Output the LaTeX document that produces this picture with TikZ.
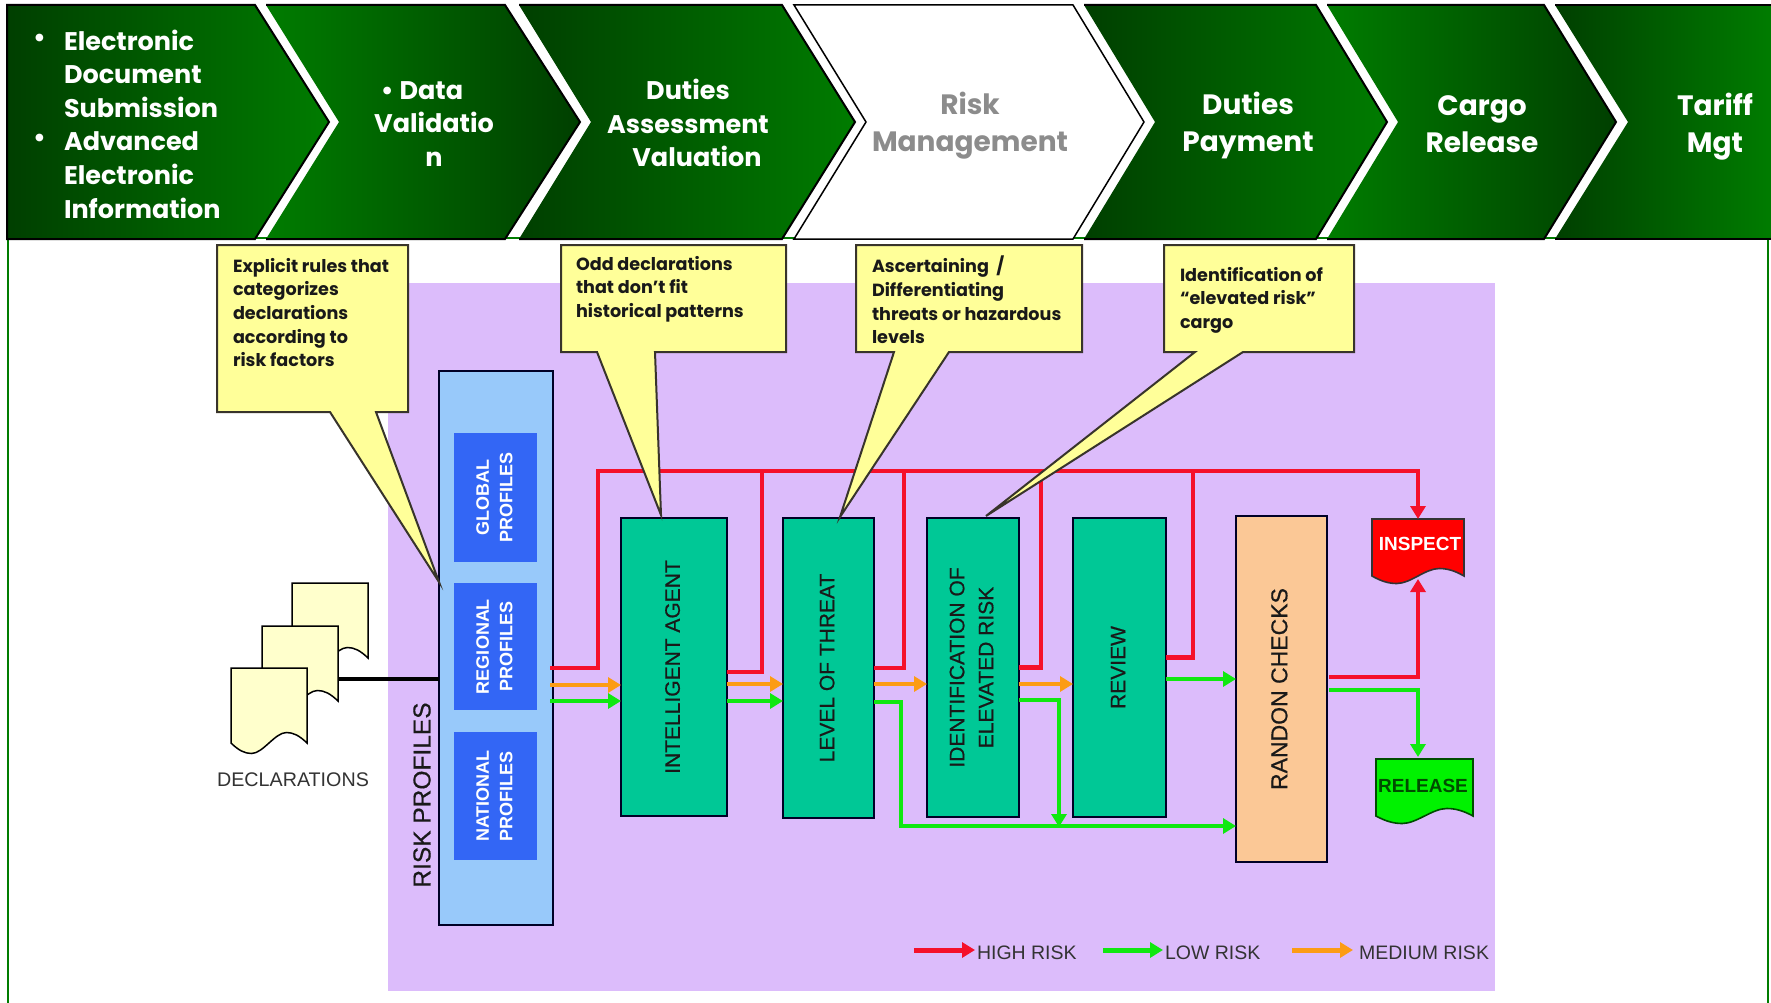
\documentclass[tikz,border=0pt]{standalone}
\usepackage{fontspec}
\setmainfont{Liberation Sans}
\newfontfamily\gothic{Poppins}
\newfontfamily\heavy{Liberation Sans}[FakeBold=0.5]
\usetikzlibrary{arrows.meta,calc}
\definecolor{cdark}{HTML}{003F00}
\definecolor{cgreen}{HTML}{007C00}
\definecolor{cpanel}{HTML}{DCBCFB}
\definecolor{cprof}{HTML}{98C9FA}
\definecolor{cblue}{HTML}{3366F5}
\definecolor{cteal}{HTML}{00C896}
\definecolor{cpeach}{HTML}{FBC896}
\definecolor{cyel}{HTML}{FFFF99}
\definecolor{cdoc}{HTML}{FFFFCC}
\definecolor{cred}{HTML}{F5102A}
\definecolor{clow}{HTML}{10E810}
\definecolor{cmed}{HTML}{FC9C14}
\newcommand{\fs}[2]{\fontsize{#1}{#2}\selectfont}
\newcommand{\vtxt}[1]{\rotatebox{90}{\begin{tabular}{@{}c@{}}#1\end{tabular}}}
\newcommand{\docpath}[5]{% L R top bottom amp
 (#1,#3) -- (#2,#3) -- (#2,#4)
 .. controls ({#2-0.1*(#2-#1)},{#4-#5*0.7}) and ({#2-0.18*(#2-#1)},{#4-#5}) .. ({#2-0.27*(#2-#1)},{#4-#5})
 .. controls ({#2-0.42*(#2-#1)},{#4-#5}) and ({#1+0.42*(#2-#1)},{#4+#5}) .. ({#1+0.27*(#2-#1)},{#4+#5})
 .. controls ({#1+0.18*(#2-#1)},{#4+#5}) and ({#1+0.1*(#2-#1)},{#4+#5*0.7}) .. (#1,#4) -- cycle}
\tikzset{
 every node/.style={inner sep=0pt,outer sep=0pt},
 hdr/.style={text=white,align=center,font=\gothic\bfseries\fs{25.5}{33.6}},
 hdrbig/.style={text=white,align=center,font=\gothic\bfseries\fs{28}{37}},
 box/.style={draw=black!85!blue,line width=1.2pt,align=center,text=black!90},
 stepnode/.style={box,fill=cteal,font=\heavy\fs{21}{29}},
 inner/.style={fill=cblue,text=white,font=\bfseries\fs{18}{23.5}},
 callout/.style={fill=cyel,draw=black!80!olive,line width=2pt,line join=miter},
 calltxt/.style={anchor=west,align=left,font=\gothic\bfseries\fs{17.6}{23.6},text=black!90},
 doc/.style={fill=cdoc,draw=black,line width=1.5pt},
 hi/.style={draw=cred,line width=4.5pt,line join=miter},
 lo/.style={draw=clow,line width=4.5pt,line join=miter},
 me/.style={draw=cmed,line width=4.5pt,line join=miter},
 tip/.style={-{Triangle[length=13pt,width=15pt]}},
 lab/.style={font=\fs{19.5}{22},text=black!80,anchor=west},
}
\begin{document}
\begin{tikzpicture}[x=1pt,y=-1pt]
\useasboundingbox (0,0) rectangle (1771,1003);
\fill[white] (0,0) rectangle (1771,1003);
% frame
\coordinate (fl1) at (8,238); \coordinate (fl2) at (8,1003);
\coordinate (fr1) at (1767.5,238); \coordinate (fr2) at (1767.5,1003);
\draw[cgreen,line width=2pt] (fl1) -- (fl2) (fr1) -- (fr2) (fl1) -- (fr1);
% chevrons
\shade[left color=cdark,right color=cgreen] (7,5) -- (255,5) -- (329,122) -- (255,239) -- (7,239) -- cycle;
\draw[black,line width=2pt] (7,239) -- (7,5) -- (255,5) -- (329,122) -- (255,239) -- cycle;
\shade[left color=cgreen,right color=cdark] (266,5) -- (505,5) -- (580,122) -- (505,239) -- (266,239) -- (339,122) -- cycle;
\draw[black,line width=2pt] (266,5) -- (505,5) -- (580,122) -- (505,239) -- (266,239);
\shade[left color=cdark,right color=cgreen] (519,5) -- (782,5) -- (855,122) -- (782,239) -- (519,239) -- (591,122) -- cycle;
\draw[black,line width=2pt] (519,5) -- (782,5) -- (855,122) -- (782,239) -- (519,239);
\draw[black,line width=1.5pt,fill=white] (794,5) -- (1073,5) -- (1144,122) -- (1073,239) -- (794,239) -- (866,122) -- cycle;
\shade[left color=cdark,right color=cgreen] (1084,5) -- (1316,5) -- (1387,122) -- (1316,239) -- (1084,239) -- (1155,122) -- cycle;
\draw[black,line width=2pt] (1084,5) -- (1316,5) -- (1387,122) -- (1316,239) -- (1084,239);
\shade[left color=cgreen,right color=cdark] (1327,5) -- (1544,5) -- (1616,122) -- (1544,239) -- (1327,239) -- (1398,122) -- cycle;
\draw[black,line width=2pt] (1327,5) -- (1544,5) -- (1616,122) -- (1544,239) -- (1327,239);
\shade[left color=cdark,right color=cgreen] (1555,5) -- (1771,5) -- (1771,239) -- (1555,239) -- (1628,122) -- cycle;
\draw[black,line width=2pt] (1555,5) -- (1771,5) (1771,239) -- (1555,239);
% header text
\node[hdr,anchor=west,align=left] (h1a) at (33,124) {•\\\mbox{}\\\mbox{}\\•\\\mbox{}\\\mbox{}};
\node[hdr,anchor=west,align=left] (h1) at (64,124) {Electronic\\Document\\Submission\\Advanced\\Electronic\\Information};
\node[hdr] (h2) at (434,124) {•\hspace{6pt}Data\hspace*{24pt}\\Validatio\\n};
\node[hdr] (h3) at (688,123) {Duties\\Assessment\\\hspace*{18pt}Valuation};
\node[hdrbig,text=black!45] (h4) at (970,126) {Risk\\Management};
\node[hdrbig] (h5) at (1248,125.5) {Duties\\Payment};
\node[hdrbig] (h6) at (1482,124) {Cargo\\Release};
\node[hdrbig] (h7) at (1715,127) {Tariff\\Mgt};
% panel
\node[fill=cpanel,minimum width=1107pt,minimum height=708pt] (panel) at (941.5,637) {};
% profiles
\node[box,fill=cprof,minimum width=114pt,minimum height=554pt] (rp) at (496,648) {};
\node[inner,minimum width=83pt,minimum height=129pt] (gp) at (495.5,497.5) {\hspace*{1pt}\vtxt{GLOBAL\\PROFILES}};
\node[inner,minimum width=83pt,minimum height=127pt] (rg) at (495.5,646.5) {\hspace*{1pt}\vtxt{REGIONAL\\PROFILES}};
\node[inner,minimum width=83pt,minimum height=128pt] (np) at (495.5,796) {\hspace*{1pt}\vtxt{NATIONAL\\PROFILES}};
\node[rotate=90,font=\heavy\fs{24.5}{28},text=black!90] (rpt) at (422,795) {RISK PROFILES};
% steps
\node[stepnode,minimum width=106pt,minimum height=298pt] (ia) at (674,667) {\vtxt{INTELLIGENT AGENT}};
\node[stepnode,minimum width=91pt,minimum height=300pt] (lt) at (828.5,668) {\vtxt{LEVEL OF THREAT}};
\node[stepnode,minimum width=92pt,minimum height=299pt] (ie) at (973,667.5) {\vtxt{IDENTIFICATION OF\\ELEVATED RISK}};
\node[stepnode,minimum width=93pt,minimum height=299pt] (rv) at (1119.5,667.5) {\vtxt{REVIEW}};
\node[box,fill=cpeach,font=\heavy\fs{23}{29},minimum width=91pt,minimum height=346pt] (rc) at (1281.5,689) {\vtxt{RANDON CHECKS}};
% docs
\draw[doc] \docpath{292}{368}{583}{658}{10.5};
\draw[doc] \docpath{262}{338}{626}{701}{10.5};
\draw[doc] \docpath{231}{307}{668}{743}{10.5};
\node[font=\fs{19.7}{22},text=black!80] (dec) at (293,780) {DECLARATIONS};
\coordinate (d2) at (338,679);
\draw[black,line width=4.5pt] (d2) -- (rp.west |- d2);
% output documents
\fill[red] \docpath{1372}{1464}{519}{576}{7.5};
\draw[black!80,line width=1.6pt] \docpath{1372}{1464}{519}{576}{7.5};
\node[text=white,font=\bfseries\fs{19}{22}] (insp) at (1420,544) {INSPECT};
\coordinate (inspT) at (1418,519);
\coordinate (inspB) at (1418,579);
\fill[green!95!black] \docpath{1376}{1473}{759}{816}{7.5};
\draw[black!70!green,line width=1.6pt] \docpath{1376}{1473}{759}{816}{7.5};
\node[text=black!70!green,font=\bfseries\fs{19}{22}] (rel) at (1423,786) {RELEASE};
\coordinate (relT) at (1418,757);
% rails
\coordinate (bus) at (598,471);
\coordinate (buslow) at (901,826);
% red
\path[hi,tip] ([xshift=-3pt,yshift=-20pt]rp.east) -| (bus) -| (inspT);
\path[hi] ([yshift=-5pt]ia.east) -| (762,471);
\path[hi] ([yshift=0pt]lt.east) -| (904,471);
\path[hi] ([yshift=0pt]ie.east) -| (1041,471);
\path[hi] ([yshift=10pt]rv.east) -| (1193,471);
\path[hi,tip] ([xshift=2pt,yshift=12pt]rc.east) -| (inspB);
% orange
\path[me,tip] ([xshift=-3pt,yshift=-37pt]rp.east) -- (ia.west |- 0,685);
\path[me,tip] ([yshift=-17pt]ia.east) -- ([yshift=-16pt]lt.west);
\path[me,tip] ([yshift=-16pt]lt.east) -- ([yshift=-16.5pt]ie.west);
\path[me,tip] ([yshift=-16.5pt]ie.east) -- ([yshift=-16.5pt]rv.west);
% green
\path[lo,tip] ([xshift=-3pt,yshift=-53pt]rp.east) -- ([yshift=-34pt]ia.west);
\path[lo,tip] ([yshift=-34pt]ia.east) -- ([yshift=-33pt]lt.west);
\path[lo,tip] ([yshift=-34pt]lt.east) -| (buslow) -- (rc.west |- buslow);
\path[lo,tip] ([yshift=-32.5pt]ie.east) -| (1059,827);
\path[lo,tip] ([yshift=-11.5pt]rv.east) -- ([yshift=10pt]rc.west);
\path[lo,tip] ([xshift=2pt,yshift=-1pt]rc.east) -| (relT);
% callouts
\draw[callout] (217,245) -- (408,245) -- (408,412) -- (376,412) -- (439,582) -- (330,412) -- (217,412) -- cycle;
\draw[callout] (561,245) -- (786,245) -- (786,352) -- (655,352) -- (661,515) -- (597,352) -- (561,352) -- cycle;
\draw[callout] (856,245) -- (1082,245) -- (1082,352) -- (949,352) -- (840,517) -- (894,352) -- (856,352) -- cycle;
\draw[callout] (1164,245) -- (1354,245) -- (1354,352) -- (1243,352) -- (986,516) -- (1195,352) -- (1164,352) -- cycle;
\node[calltxt] (c1) at (233,312.5) {Explicit rules that\\categorizes\\declarations\\according to\\risk factors};
\node[calltxt] (c2) at (576,289) {Odd declarations\\that don’t fit\\historical patterns};
\node[calltxt] (c3) at (872,300) {Ascertaining\ \ /\\Differentiating\\threats or hazardous\\levels};
\node[calltxt] (c4) at (1180,300) {Identification of\\“elevated risk”\\cargo};
% legend
\coordinate (la1) at (914,950); \coordinate (la2) at (975,950);
\coordinate (lb1) at (1103,950); \coordinate (lb2) at (1163,950);
\coordinate (lc1) at (1292,950); \coordinate (lc2) at (1353,950);
\draw[draw=cred,line width=5pt,tip] (la1) -- (la2);
\draw[draw=clow,line width=5pt,tip] (lb1) -- (lb2);
\draw[draw=cmed,line width=5pt,tip] (lc1) -- (lc2);
\node[lab] (l1) at (977,953) {HIGH RISK};
\node[lab] (l2) at (1165,953) {LOW RISK};
\node[lab] (l3) at (1359,953) {MEDIUM RISK};
\end{tikzpicture}
\end{document}
